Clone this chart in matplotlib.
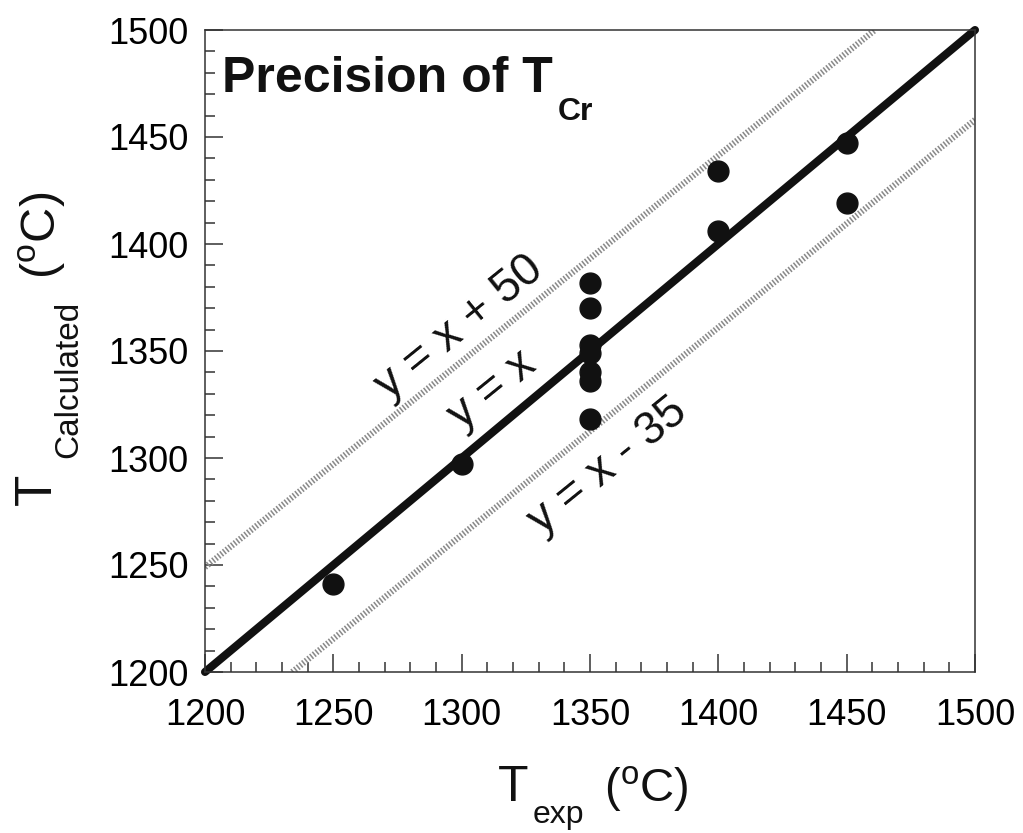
#Precision of T_Cr: calculated vs experimental temperature
import numpy as np
import matplotlib as mpl
mpl.use('Agg')
import matplotlib.pyplot as plt
from matplotlib.ticker import MultipleLocator

mpl.rcParams['font.family'] = ['Liberation Sans', 'DejaVu Sans']
mpl.rcParams['mathtext.fontset'] = 'custom'
mpl.rcParams['mathtext.rm'] = 'Liberation Sans'

#%%
#data
t_exp = [1250, 1300, 1350, 1350, 1350, 1350, 1350, 1350, 1350, 1400, 1400, 1450, 1450]
t_calc = [1241, 1297, 1382, 1370, 1353, 1349, 1340, 1336, 1318, 1434, 1406, 1447, 1419]

ident_x = [1200, 1500]
ident_y = [1200, 1500]
upper_x = [1200, 1461]   # y = x + 50 as drawn
upper_y = [1249, 1500]
lower_x = [1234, 1500]   # y = x - 35 as drawn
lower_y = [1200, 1458]

x_lim = [1200, 1500]
y_lim = [1200, 1500]

#%%
W, H = 1023, 833
def fx(px):
    return px / W
def fy(py):
    return 1 - py / H

fig = plt.figure(figsize=(W / 100, H / 100), dpi=100)
ax = fig.add_axes([fx(205), fy(672), 770 / W, 642 / H])

dot_col = '#8a8a8a'
ax.plot(upper_x, upper_y, color=dot_col, lw=4.5, ls=(0, (0.25, 0.3)), dash_capstyle='butt')
ax.plot(lower_x, lower_y, color=dot_col, lw=4.5, ls=(0, (0.25, 0.3)), dash_capstyle='butt')
ax.plot(ident_x, ident_y, color='#111111', lw=5.8, solid_capstyle='round', clip_on=False)
ax.plot(t_exp, t_calc, 'o', ms=15, color='#111111', clip_on=False)

ax.set_xlim(x_lim)
ax.set_ylim(y_lim)
ax.xaxis.set_major_locator(MultipleLocator(50))
ax.yaxis.set_major_locator(MultipleLocator(50))
ax.xaxis.set_minor_locator(MultipleLocator(10))
ax.yaxis.set_minor_locator(MultipleLocator(10))
ax.tick_params(which='both', direction='in', top=False, right=False, width=1.1, color='#333333')
ax.tick_params(which='major', length=13, labelsize=26)
ax.tick_params(which='minor', length=7)
ax.tick_params(axis='x', which='major', pad=19)
ax.tick_params(axis='y', which='major', pad=12)
for sp in ax.spines.values():
    sp.set_linewidth(1.1)
    sp.set_color('#333333')

#line labels
ax.text(1299, 1361, 'y = x + 50', rotation=39, rotation_mode='anchor',
        ha='center', va='center', fontsize=33, color='#111111')
ax.text(1312, 1332, 'y = x', rotation=39, rotation_mode='anchor',
        ha='center', va='center', fontsize=33, color='#111111')
ax.text(1357, 1296, 'y = x - 35', rotation=39, rotation_mode='anchor',
        ha='center', va='center', fontsize=33, color='#111111')

#title
fig.text(fx(222), fy(92), 'Precision of T', fontsize=36, fontweight='bold', va='baseline', color='#111111')
fig.text(fx(558), fy(120), 'Cr', fontsize=23, fontweight='bold', va='baseline', color='#111111')

#x label
fig.text(fx(513), fy(801), 'T', fontsize=36, ha='center', va='baseline', color='#111111')
fig.text(fx(533), fy(823), 'exp', fontsize=23, ha='left', va='baseline', color='#111111')
fig.text(fx(604), fy(802), r'($^{\mathrm{o}}$C)', fontsize=34, ha='left', va='baseline', color='#111111')

#y label
fig.text(fx(62), fy(489), 'T', fontsize=37, rotation=90, ha='right', va='center', color='#111111')
fig.text(fx(84), fy(458), 'Calculated', fontsize=24, rotation=90, ha='right', va='bottom', color='#111111')
fig.text(fx(68), fy(279), r'($^{\mathrm{o}}$C)', fontsize=35, rotation=90, ha='right', va='bottom', color='#111111')

plt.savefig('out.png', dpi=100)
